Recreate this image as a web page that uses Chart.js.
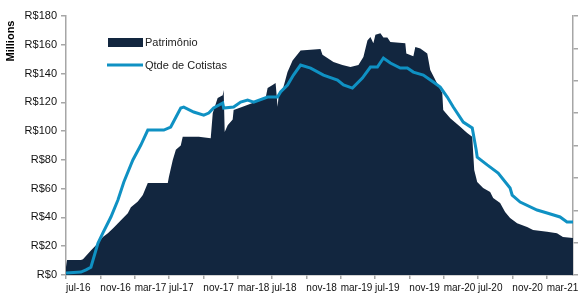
<!DOCTYPE html>
<html>
<head>
<meta charset="utf-8">
<script src="https://cdn.jsdelivr.net/npm/chart.js@4"></script>
<style>
  body { margin: 0; background: #fff; }
  canvas { display: block; }
</style>
</head>
<body>
<canvas id="grafico" width="582" height="295"></canvas>
<script>
// meses contados a partir de jul-16
const mesesPat = [0, 0.12, 1.74, 1.98, 2.9, 3.72, 4.3, 4.88, 5.58, 6.4, 7.2, 7.56, 8.37, 8.95, 9.53, 11.86, 11.98, 12.44, 12.8, 13.37,
    13.6, 15.47, 16.86, 17.1, 17.67, 18.26, 18.37, 18.49, 18.84, 19.42, 19.53, 20.58, 21.74, 22.1, 23.26, 23.49, 24.07, 24.42, 24.65, 24.77,
    25.35, 25.81, 26.4, 27.33, 29.65, 29.88, 30.81, 31.16, 32.2, 33.14, 34.07, 34.65, 35.12, 35.47, 35.81, 36.05, 36.63, 36.98, 37.44, 37.79,
    39.53, 39.65, 40.47, 40.7, 41.28, 42.09, 42.44, 43.26, 43.84, 43.95, 44.77, 45.93, 46.74, 47.33, 47.56, 47.91, 48.6, 49.42, 49.77, 50.58,
    51.16, 51.74, 52.56, 53.72, 54.42, 56.05, 57.2, 57.9, 59.07];
const patrimonio = [5.5, 10.4, 10.4, 11, 17, 22, 26.4, 29, 33, 38, 43, 47, 51, 55.6, 64, 64, 68, 80, 87, 90,
    96, 96, 95, 112.6, 123, 125, 128.6, 99.4, 104, 108, 114.7, 117, 119.5, 120, 123, 130, 132, 133.4, 117, 124,
    131, 141, 149, 156, 157, 153, 149.5, 148, 146, 144.6, 146, 151.5, 163, 165.4, 161, 167, 168, 165, 165, 162,
    161, 154, 152, 158.5, 157.5, 154, 142.5, 133, 126.5, 114.7, 109, 103, 98.7, 96, 73, 64.6, 60.5, 57.7, 53.5, 50,
    43.8, 39.6, 36, 33.4, 31.3, 30, 29, 26.4, 25.7];

const mesesCot = [0, 1.74, 2.33, 2.9, 3.72, 4.3, 5.23, 6.05, 6.74, 7.79, 8.72, 9.53, 11.4, 12.2, 13.37, 13.72,
    14.88, 16.05, 16.63, 17.2, 18.26, 18.37, 19.53, 20.35, 21.16, 21.86, 23.49, 24.65, 25.0, 25.81, 26.5, 27.33,
    28.5, 30.0, 31.63, 32.33, 33.37, 34.53, 35.47, 36.28, 36.98, 37.79, 38.95, 39.77, 40.47, 41.63, 42.79, 43.6,
    44.42, 45.12, 46.28, 47.33, 47.79, 47.91, 49.07, 50.35, 51.74, 51.98, 52.91, 54.88, 56.05, 57.56, 58.37, 59.07];
const cotistas = [300, 450, 800, 1200, 4900, 6500, 8950, 11580, 14360, 17760, 20070, 22390, 22390, 22850, 25790, 25940,
    25170, 24700, 25010, 25790, 26560, 25790, 25940, 26710, 27020, 26710, 27480, 27480, 28260, 29340, 30880, 32420,
    31960, 30880, 30110, 29340, 28870, 30420, 32120, 32120, 33510, 32730, 31960, 31960, 31340, 30880, 29800, 29030,
    27480, 25940, 23620, 22700, 19300, 18200, 17000, 15750, 13430, 12350, 11270, 10040, 9570, 8960, 8180, 8180];

const posTicks = [0, 4, 8, 12, 16, 20, 24, 28, 32, 36, 40, 44, 48, 52, 56];
const rotulos = ['jul-16', 'nov-16', 'mar-17', 'jul-17', 'nov-17', 'mar-18', 'jul-18', 'nov-18',
    'mar-19', 'jul-19', 'nov-19', 'mar-20', 'jul-20', 'nov-20', 'mar-21'];

const navy = '#12263f';
const azul = '#0f91c3';
const cinza = '#a6a6a6';

// legenda e titulo "Millions" desenhados a mao
const extras = {
    id: 'extras',
    afterDraw(chart) {
        const c = chart.ctx;
        c.save();
        c.font = 'bold 11px "Liberation Sans", Arial, sans-serif';
        c.fillStyle = '#000';
        c.translate(11, 41);
        c.rotate(-Math.PI / 2);
        c.textAlign = 'center';
        c.textBaseline = 'middle';
        c.fillText('Millions', 0, 0);
        c.restore();

        c.save();
        c.fillStyle = navy;
        c.fillRect(108, 38, 35, 9);
        c.strokeStyle = azul;
        c.lineWidth = 3;
        c.beginPath();
        c.moveTo(107, 65);
        c.lineTo(143, 65);
        c.stroke();
        c.font = '11px "Liberation Sans", Arial, sans-serif';
        c.fillStyle = '#222';
        c.textBaseline = 'middle';
        c.fillText('Patrimônio', 145, 43);
        c.fillText('Qtde de Cotistas', 145, 66);
        c.restore();
    }
};

const ctx = document.getElementById('grafico').getContext('2d');

new Chart(ctx, {
    type: 'line',
    data: {
        datasets: [{
            label: 'Qtde de Cotistas',
            data: mesesCot.map((m, i) => ({ x: m, y: cotistas[i] })),
            yAxisID: 'y1',
            borderColor: azul,
            borderWidth: 3,
            pointRadius: 0,
            tension: 0,
            fill: false
        }, {
            label: 'Patrimônio',
            data: mesesPat.map((m, i) => ({ x: m, y: patrimonio[i] })),
            yAxisID: 'y',
            borderWidth: 0,
            borderColor: navy,
            backgroundColor: navy,
            pointRadius: 0,
            tension: 0,
            fill: 'origin'
        }]
    },
    options: {
        responsive: false,
        animation: false,
        layout: { padding: { top: 16 } },
        plugins: {
            legend: { display: false },
            tooltip: { enabled: false }
        },
        scales: {
            x: {
                type: 'linear',
                min: 0,
                max: 59.07,
                afterBuildTicks: (s) => { s.ticks = posTicks.map(v => ({ value: v })); },
                afterFit: (s) => { s.height = 20; },
                ticks: {
                    autoSkip: false,
                    maxRotation: 0,
                    align: 'start',
                    labelOffset: 0,
                    padding: 3,
                    color: '#111',
                    font: { family: '"Liberation Sans", Arial', size: 10 },
                    callback: (v) => rotulos[posTicks.indexOf(v)]
                },
                grid: { drawOnChartArea: false, tickLength: 4, color: cinza, lineWidth: 1.5 },
                border: { color: cinza, width: 1.5 }
            },
            y: {
                position: 'left',
                min: 0,
                max: 180,
                afterFit: (s) => { s.width = 66; },
                ticks: {
                    stepSize: 20,
                    padding: 4,
                    color: '#111',
                    font: { family: '"Liberation Sans", Arial', size: 11 },
                    callback: (v) => 'R$' + v
                },
                grid: { drawOnChartArea: false, tickLength: 5, color: cinza, lineWidth: 1.5 },
                border: { color: cinza, width: 1.5 }
            },
            y1: {
                position: 'right',
                min: 0,
                max: 40000,
                afterFit: (s) => { s.width = 9; },
                ticks: { stepSize: 5000, callback: () => '' },
                grid: { drawOnChartArea: false, tickLength: 5, color: cinza, lineWidth: 1.5 },
                border: { color: cinza, width: 1.5 }
            }
        }
    },
    plugins: [extras]
});
</script>
</body>
</html>
